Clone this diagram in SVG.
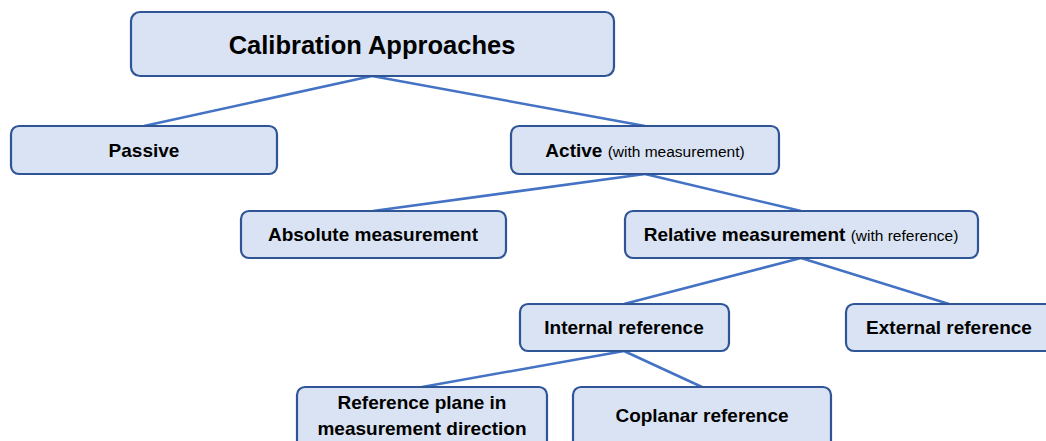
<svg xmlns="http://www.w3.org/2000/svg" width="1046" height="441" viewBox="0 0 1046 441">
<style>
.box{fill:#DAE3F3;stroke:#2F5597;stroke-width:2.2}
.t{font-family:"Liberation Sans",Arial,sans-serif;font-weight:bold;font-size:19px;fill:#000;text-anchor:middle}
.s{font-weight:normal;font-size:15.5px}
.title{font-size:25.5px}
.c line{stroke:#4472C4;stroke-width:2.5}
</style>
<rect width="1046" height="441" fill="#fff"/>
<g class="c" id="connectors">
<line x1="372" y1="76" x2="144" y2="126"/>
<line x1="372" y1="76" x2="645" y2="126"/>
<line x1="645" y1="174" x2="373" y2="211"/>
<line x1="645" y1="174" x2="801" y2="211"/>
<line x1="801" y1="258" x2="624" y2="304"/>
<line x1="801" y1="258" x2="949" y2="304"/>
<line x1="624" y1="351" x2="422" y2="387"/>
<line x1="624" y1="351" x2="702" y2="387"/>
</g>
<g id="n-root"><rect class="box" x="131" y="12" width="483" height="64" rx="9"/><text class="t title" x="372" y="54">Calibration Approaches</text></g>
<g id="n-passive"><rect class="box" x="11" y="126" width="266" height="48" rx="8"/><text class="t" x="144" y="157">Passive</text></g>
<g id="n-active"><rect class="box" x="511" y="126" width="268" height="48" rx="8"/><text class="t" x="645" y="157">Active <tspan class="s">(with measurement)</tspan></text></g>
<g id="n-absolute"><rect class="box" x="241" y="211" width="265" height="47" rx="8"/><text class="t" x="373" y="241">Absolute measurement</text></g>
<g id="n-relative"><rect class="box" x="625" y="211" width="353" height="47" rx="8"/><text class="t" x="801" y="241">Relative measurement <tspan class="s">(with reference)</tspan></text></g>
<g id="n-internal"><rect class="box" x="520" y="304" width="209" height="47" rx="8"/><text class="t" x="624" y="334">Internal reference</text></g>
<g id="n-external"><rect class="box" x="846" y="304" width="210" height="47" rx="8"/><text class="t" x="949" y="334">External reference</text></g>
<g id="n-plane"><rect class="box" x="297" y="387" width="250" height="64" rx="8"/><text class="t" x="422" y="409">Reference plane in</text><text class="t" x="422" y="435">measurement direction</text></g>
<g id="n-coplanar"><rect class="box" x="573" y="387" width="258" height="64" rx="8"/><text class="t" x="702" y="422">Coplanar reference</text></g>
</svg>
